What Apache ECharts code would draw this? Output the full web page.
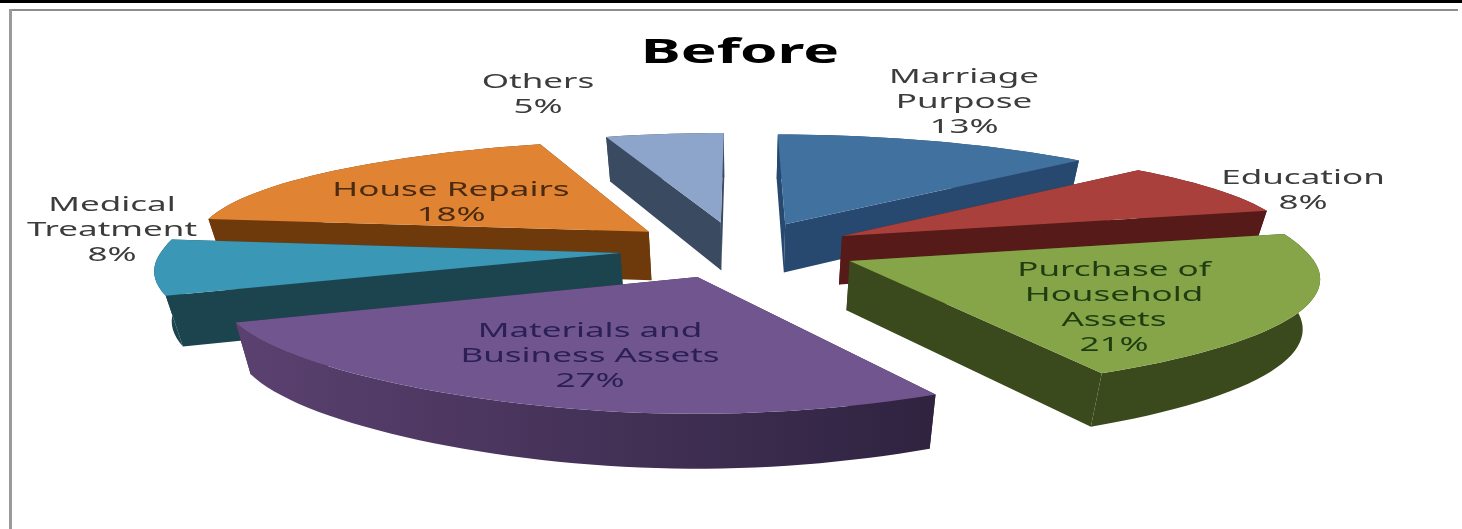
<!DOCTYPE html>
<html>
<head>
<meta charset="utf-8">
<style>html,body{margin:0;padding:0;background:#fff}#chart{width:1462px;height:529px}</style>
<script src="https://cdn.jsdelivr.net/npm/echarts@6/dist/echarts.min.js"></script>
</head>
<body>
<div id="chart"></div>
<script>
// Loan purpose shares, clockwise from twelve o'clock
const categories = ['Marriage\nPurpose', 'Education', 'Purchase of\nHousehold\nAssets',
  'Materials and\nBusiness Assets', 'Medical\nTreatment', 'House Repairs', 'Others'];
const shares = [13, 8, 21, 27, 8, 18, 5];

// Face colours per slice
const topColors = ['#41719f', '#a9403c', '#86a548', '#70558f', '#3a97b5', '#e08433', '#8ea5cb'];
const sideColors = ['#27496f', '#561a18', '#3a4a1c', '#33243f', '#1c444f', '#6e3a0c', '#3a4a60'];
const rimStart = ['#27496f', '#561a18', '#3a4a1c', '#5b4170', '#1c444f', '#6e3a0c', '#3a4a60'];
const rimEnd = ['#27496f', '#561a18', '#3a4a1c', '#2f2340', '#1c444f', '#6e3a0c', '#3a4a60'];

// Label layout
const labelCentres = [[964, 102], [1303, 191], [1114, 308], [590, 356], [112, 230], [451, 203], [538, 95]];
const labelColors = ['#3c3c3c', '#3c3c3c', '#1f3d10', '#2b1f55', '#3c3c3c', '#4a2a10', '#3c3c3c'];

// Projection of the exploded disc
const view = { cx: 739, cy: 249.5, rx: 458, ry: 109, perspFront: 0.13, perspBack: 0.1, perspFar: 0.04, perspY: 0.14, explode: 0.26, depth: 49, depthPow: 0.55, taper: 0.03 };
const total = shares.reduce((a, b) => a + b, 0);

function project(X, Y) {
  const wx = 1 + (Y < 0 ? view.perspFront : view.perspBack) * Y + view.perspFar * Y * Y * Y * Y;
  return [view.cx + view.rx * X / wx, view.cy - view.ry * Y / (1 + view.perspY * Y)];
}
function lower(X, Y) {
  const s = 1 / (1 + 0.15 * Y);
  const p = project(X, Y);
  return [view.cx + (p[0] - view.cx) * (1 - view.taper), p[1] + view.depth * Math.pow(s, view.depthPow)];
}

// Slice angles accumulated from the values
const sweeps = [];
shares.reduce((acc, v) => { sweeps.push([acc, acc + v / total * 2 * Math.PI]); return acc + v / total * 2 * Math.PI; }, 0);
const apexes = sweeps.map(([a, b]) => {
  const m = (a + b) / 2;
  return [view.explode * Math.sin(m), view.explode * Math.cos(m)];
});
// Painter's order: slices further back are drawn first
const paintRank = apexes.map((p, i) => i).sort((i, j) => apexes[j][1] - apexes[i][1])
  .reduce((r, idx, pos) => { r[idx] = pos; return r; }, []);

function renderSlice(params, api) {
  const i = params.dataIndex;
  const start = sweeps[i][0];
  const sweep = api.value(0) / total * 2 * Math.PI;
  const apex = apexes[i];
  const rim = [];
  const steps = Math.max(6, Math.round(sweep / (2 * Math.PI / 180)));
  for (let k = 0; k <= steps; k++) {
    const t = start + sweep * k / steps;
    rim.push([apex[0] + Math.sin(t), apex[1] + Math.cos(t)]);
  }
  const topRim = rim.map(p => project(p[0], p[1]));
  const lowRim = rim.map(p => lower(p[0], p[1]));
  const apexTop = project(apex[0], apex[1]);
  const apexLow = lower(apex[0], apex[1]);
  const z = 10 + paintRank[i] * 5;
  const xs = topRim.map(p => p[0]);
  const rimFill = {
    type: 'linear', global: true,
    x: Math.min.apply(null, xs), y: 0, x2: Math.max.apply(null, xs), y2: 0,
    colorStops: [{ offset: 0, color: rimStart[i] }, { offset: 1, color: rimEnd[i] }]
  };
  return {
    type: 'group',
    children: [
      { type: 'polygon', z2: z, shape: { points: [apexTop, topRim[0], lowRim[0], apexLow] }, style: { fill: sideColors[i] } },
      { type: 'polygon', z2: z, shape: { points: [apexTop, topRim[steps], lowRim[steps], apexLow] }, style: { fill: sideColors[i] } },
      { type: 'polygon', z2: z + 1, shape: { points: topRim.concat(lowRim.slice().reverse()) }, style: { fill: rimFill } },
      { type: 'polygon', z2: z + 2, shape: { points: [apexTop].concat(topRim) }, style: { fill: topColors[i] } },
      {
        type: 'text', z2: 200, x: labelCentres[i][0], y: labelCentres[i][1], scaleX: 1.75,
        style: {
          text: api.value(1) + '\n' + api.value(0) + '%',
          font: '20px "Noto Sans"', lineHeight: 25, align: 'center', verticalAlign: 'middle', fill: labelColors[i]
        }
      }
    ]
  };
}

const chart = echarts.init(document.getElementById('chart'), null, { renderer: 'canvas' });
chart.setOption({
  animation: false,
  backgroundColor: '#ffffff',
  graphic: [
    { type: 'rect', z: 1, shape: { x: 0, y: 0, width: 1462, height: 3 }, style: { fill: '#000' } },
    { type: 'rect', z: 1, shape: { x: 9, y: 9, width: 1449, height: 2 }, style: { fill: '#8c8c8c' } },
    { type: 'rect', z: 1, shape: { x: 9, y: 9, width: 3, height: 520 }, style: { fill: '#9a9a9a' } },
    {
      type: 'text', z: 5, x: 740, y: 53, scaleX: 1.77,
      style: { text: 'Before', font: 'bold 34px "Noto Sans"', align: 'center', verticalAlign: 'middle', fill: '#000' }
    }
  ],
  series: [{
    type: 'custom',
    coordinateSystem: 'none',
    renderItem: renderSlice,
    dimensions: ['share', 'name'],
    encode: { value: 0 },
    data: categories.map((name, i) => [shares[i], name])
  }]
});
</script>
</body>
</html>
